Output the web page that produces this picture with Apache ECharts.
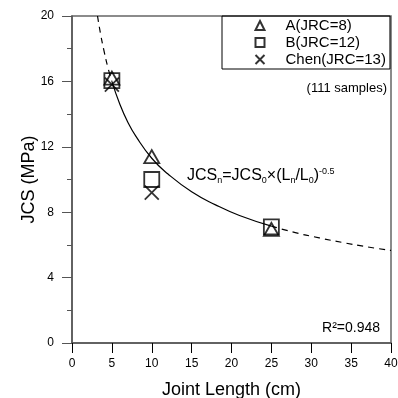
<!DOCTYPE html>
<html>
<head>
<meta charset="utf-8">
<script src="https://cdn.jsdelivr.net/npm/echarts@6/dist/echarts.min.js"></script>
<style>
  html, body { margin: 0; padding: 0; background: #fff; }
  #chart { width: 398px; height: 398px; }
</style>
</head>
<body>
<div id="chart"></div>
<script>
// measured points (joint length in cm, JCS in MPa)
const seriesA = [[5, 16.2], [10, 11.4], [25, 6.95]];
const seriesB = [[5, 16.05], [10, 10.0], [25, 7.1]];
const seriesChen = [[5, 15.8], [10, 9.2]];

// fitted curve: solid inside the data range, dashed outside
const fitSolidL = [5, 6, 7, 8, 10, 12, 15, 18, 21, 25];
const fitSolidJCS = [16, 14.6, 13.5, 12.65, 11.3, 10.35, 9.25, 8.45, 7.8, 7.15];
const fitLowL = [3.2, 3.6, 4, 4.5, 5];
const fitLowJCS = [20, 18.85, 17.9, 16.85, 16];
const fitHighL = [25, 28, 31, 34, 37, 40];
const fitHighJCS = [7.15, 6.75, 6.43, 6.14, 5.88, 5.66];

const xTicks = [0, 40, 5];
const yTicks = [0, 20, 4];

const zip = (xs, ys) => xs.map((x, i) => [x, ys[i]]);
const font = 'Liberation Sans, Arial, sans-serif';

const chart = echarts.init(document.getElementById('chart'));

const markerStyle = { color: 'none', borderColor: '#000', borderWidth: 1.8 };
const crossPath = 'path://M0,0L10,10M10,0L0,10';

chart.setOption({
  animation: false,
  textStyle: { fontFamily: font, color: '#000' },
  grid: {
    left: 72, right: 7, top: 16, bottom: 55,
    outerBoundsMode: 'none', containLabel: false,
    show: true, borderColor: '#666', borderWidth: 1.5
  },
  legend: {
    orient: 'vertical',
    left: 222, top: 16,
    padding: [1, 4, 1, 31],
    itemWidth: 9, itemHeight: 9, itemGap: 0,
    borderColor: '#000', borderWidth: 1,
    textStyle: { fontSize: 15, lineHeight: 17, padding: [0, 0, 0, 16], fontFamily: font, color: '#000' },
    data: ['A(JRC=8)', 'B(JRC=12)', 'Chen(JRC=13)']
  },
  xAxis: {
    type: 'value',
    min: xTicks[0], max: xTicks[1], interval: xTicks[2],
    name: 'Joint Length (cm)', nameLocation: 'middle', nameGap: 38,
    nameMoveOverlap: false,
    nameTextStyle: { fontSize: 18, fontFamily: font },
    axisLine: { lineStyle: { color: '#555', width: 1.5 } },
    axisTick: { show: true, inside: false, length: 10, lineStyle: { color: '#000' } },
    axisLabel: { fontSize: 12, margin: 15, color: '#000' },
    splitLine: { show: false }
  },
  yAxis: {
    type: 'value',
    min: yTicks[0], max: yTicks[1], interval: yTicks[2],
    name: 'JCS (MPa)', nameLocation: 'middle', nameGap: 34,
    nameMoveOverlap: false,
    nameTextStyle: { fontSize: 18, fontFamily: font },
    axisLine: { show: true, lineStyle: { color: '#555', width: 1.5 } },
    axisTick: { show: true, inside: false, length: 10, lineStyle: { color: '#555' } },
    minorTick: { show: true, splitNumber: 2, length: 5, lineStyle: { color: '#555' } },
    axisLabel: { fontSize: 12, margin: 18, color: '#000' },
    splitLine: { show: false }
  },
  graphic: [
    {
      type: 'text', left: 187, top: 167,
      style: {
        text: 'JCS{sub|n}=JCS{sub|0}×(L{sub|n}/L{sub|0}){sup|-0.5}',
        font: '16px ' + font, fill: '#000',
        rich: {
          sub: { fontSize: 9, fontFamily: font, verticalAlign: 'bottom', lineHeight: 18, padding: [6, 0, 0, 0] },
          sup: { fontSize: 9, fontFamily: font, verticalAlign: 'top', lineHeight: 18, padding: [0, 0, 8, 0] }
        }
      }
    },
    {
      type: 'text', right: 11, top: 82,
      style: { text: '(111 samples)', font: '13px ' + font, fill: '#000' }
    },
    {
      type: 'text', right: 18, top: 321,
      style: { text: 'R²=0.948', font: '14px ' + font, fill: '#000' }
    }
  ],
  series: [
    {
      type: 'line', data: zip(fitSolidL, fitSolidJCS), smooth: true,
      showSymbol: false, silent: true,
      lineStyle: { color: '#000', width: 1.2 }
    },
    {
      type: 'line', data: zip(fitLowL, fitLowJCS), smooth: true,
      showSymbol: false, silent: true,
      lineStyle: { color: '#000', width: 1.2, type: [6, 5] }
    },
    {
      type: 'line', data: zip(fitHighL, fitHighJCS), smooth: true,
      showSymbol: false, silent: true,
      lineStyle: { color: '#000', width: 1.2, type: [6, 5] }
    },
    {
      name: 'A(JRC=8)', type: 'scatter', data: seriesA,
      symbol: 'triangle', symbolSize: [15, 13], itemStyle: markerStyle
    },
    {
      name: 'B(JRC=12)', type: 'scatter', data: seriesB,
      symbol: 'rect', symbolSize: 15, itemStyle: markerStyle
    },
    {
      name: 'Chen(JRC=13)', type: 'scatter', data: seriesChen,
      symbol: crossPath, symbolSize: 14, itemStyle: markerStyle
    }
  ]
});
</script>
</body>
</html>
